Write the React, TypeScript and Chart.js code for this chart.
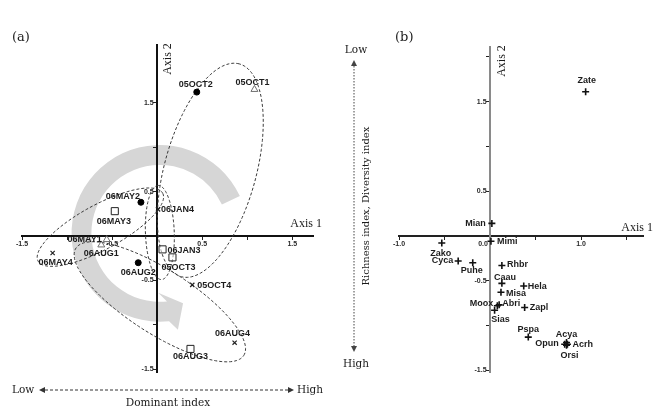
import { useEffect, useRef } from "react";
import { Chart, registerables } from "chart.js";

Chart.register(...registerables);

// ---------- Panel (a): sampling dates in the ordination plane ----------
const siteNames = [
  "05OCT1", "05OCT2", "05OCT3", "05OCT4",
  "06JAN3", "06JAN4",
  "06MAY1", "06MAY2", "06MAY3", "06MAY4",
  "06AUG1", "06AUG2", "06AUG3", "06AUG4",
];
const siteAxis1 = [1.08, 0.44, 0.17, 0.39, 0.06, 0.01, -0.56, -0.18, -0.47, -1.16, -0.62, -0.21, 0.37, 0.86];
const siteAxis2 = [1.65, 1.62, -0.24, -0.55, -0.15, 0.3, -0.04, 0.38, 0.28, -0.19, -0.1, -0.3, -1.27, -1.2];

// Ellipses around each sampling period: centre, semi-axes and tilt of the long axis (degrees)
const periodNames = ["05OCT", "06JAN", "06MAY", "06AUG"];
const periodCentre1 = [0.59, 0.03, -0.63, 0.03];
const periodCentre2 = [0.74, 0.04, 0.1, -0.74];
const periodLong = [1.24, 0.53, 0.79, 1.11];
const periodShort = [0.51, 0.16, 0.25, 0.36];
const periodTilt = [75, 92, 29, -33];

// Seasonal trajectory band (centre and radii in axis units, start/end angles in degrees)
const trajectoryCentre = [0.03, 0.03];
const trajectoryRadii = [0.76, 0.98];
const trajectoryAngles = [-25, 84];

const siteTicks = [-1.5, -1, -0.5, 0, 0.5, 1, 1.5];
const siteTickText = ["-1.5", "", "-0.5", "", "0.5", "", "1.5"];

// ---------- Panel (b): species scores ----------
const speciesNames = [
  "Zate", "Mian", "Mimi", "Zako", "Cyca", "Puhe", "Rhbr", "Caau", "Hela", "Misa",
  "Moox", "Abri", "Sias", "Zapl", "Pspa", "Acya", "Opun", "Acrh", "Orsi",
];
const speciesAxis1 = [1.05, 0.02, 0.01, -0.53, -0.35, -0.19, 0.13, 0.13, 0.37, 0.12, 0.08, 0.1, 0.05, 0.38, 0.42, 0.84, 0.82, 0.85, 0.84];
const speciesAxis2 = [1.61, 0.14, -0.06, -0.08, -0.28, -0.3, -0.33, -0.53, -0.56, -0.63, -0.78, -0.77, -0.83, -0.8, -1.13, -1.19, -1.21, -1.21, -1.22];

const speciesTicks1 = [-1, -0.5, 0, 0.5, 1, 1.5];
const speciesTickText1 = ["-1.0", "", "0.0\u2002\u2002\u2002\u2002", "", "1.0", ""];
const speciesTicks2 = [-1.5, -1, -0.5, 0, 0.5, 1, 1.5, 2];
const speciesTickText2 = ["-1.5", "", "-0.5", "", "0.5", "", "1.5", ""];

// ---------- label placement (pixel offsets from the marker) ----------
type Place = [number, number, CanvasTextAlign];
const siteLabelPlace: Record<string, Place> = {
  "05OCT1": [-2, -7, "center"],
  "05OCT2": [-1, -8, "center"],
  "05OCT3": [6, 10, "center"],
  "05OCT4": [5, 1, "left"],
  "06JAN3": [5, 1, "left"],
  "06JAN4": [3, 0, "left"],
  "06MAY1": [-5, 0, "right"],
  "06MAY2": [-1, -6, "right"],
  "06MAY3": [-1, 10, "center"],
  "06MAY4": [3, 10, "center"],
  "06AUG1": [0, 9, "center"],
  "06AUG2": [0, 10, "center"],
  "06AUG3": [0, 8, "center"],
  "06AUG4": [-2, -9, "center"],
};
const speciesLabelPlace: Record<string, Place> = {
  Zate: [1, -11, "center"],
  Mian: [-6, 0, "right"],
  Mimi: [6, 0, "left"],
  Zako: [-1, 10, "center"],
  Cyca: [-5, 0, "right"],
  Puhe: [-1, 8, "center"],
  Rhbr: [5, -1, "left"],
  Caau: [3, -6, "center"],
  Hela: [4, 0, "left"],
  Misa: [5, 1, "left"],
  Moox: [-4, -2, "right"],
  Abri: [3, -1, "left"],
  Sias: [6, 9, "center"],
  Zapl: [5, 0, "left"],
  Pspa: [0, -8, "center"],
  Acya: [0, -8, "center"],
  Opun: [-6, -1, "right"],
  Acrh: [5, 0, "left"],
  Orsi: [3, 10, "center"],
};

const SANS = '"Liberation Sans", Arial, sans-serif';
const SERIF = '"DejaVu Serif", serif';
const TIMES = '"Liberation Serif", "Times New Roman", serif';

const replicateMarkers = [
  { pointStyle: "triangle", pointRadius: 4, borderColor: "#6f6f6f", backgroundColor: "rgba(255,255,255,0)", borderWidth: 1 },
  { pointStyle: "circle", pointRadius: 3, borderColor: "#000", backgroundColor: "#000", borderWidth: 1 },
  { pointStyle: "rect", pointRadius: 5, borderColor: "#222", backgroundColor: "rgba(255,255,255,0.5)", borderWidth: 1 },
  { pointStyle: "crossRot", pointRadius: 3, borderColor: "#222", backgroundColor: "#222", borderWidth: 1.2 },
];

function writeText(
  ctx: CanvasRenderingContext2D, s: string, x: number, y: number, font: string,
  align: CanvasTextAlign = "left", rot = 0, color = "#1a1a1a",
) {
  ctx.save();
  ctx.font = font;
  ctx.fillStyle = color;
  ctx.textAlign = align;
  ctx.textBaseline = "middle";
  ctx.translate(x, y);
  if (rot) ctx.rotate(rot);
  ctx.fillText(s, 0, 0);
  ctx.restore();
}

function arrowLine(
  ctx: CanvasRenderingContext2D, x1: number, y1: number, x2: number, y2: number,
  dash: number[], color: string, lw: number,
) {
  const headLen = 6;
  const headHalf = 3;
  const ang = Math.atan2(y2 - y1, x2 - x1);
  const ux = Math.cos(ang);
  const uy = Math.sin(ang);
  ctx.save();
  ctx.strokeStyle = color;
  ctx.fillStyle = color;
  ctx.lineWidth = lw;
  ctx.setLineDash(dash);
  ctx.beginPath();
  ctx.moveTo(x1 + ux * headLen, y1 + uy * headLen);
  ctx.lineTo(x2 - ux * headLen, y2 - uy * headLen);
  ctx.stroke();
  ctx.setLineDash([]);
  const head = (tx: number, ty: number, dx: number, dy: number) => {
    ctx.beginPath();
    ctx.moveTo(tx, ty);
    ctx.lineTo(tx - dx * headLen - dy * headHalf, ty - dy * headLen + dx * headHalf);
    ctx.lineTo(tx - dx * headLen + dy * headHalf, ty - dy * headLen - dx * headHalf);
    ctx.closePath();
    ctx.fill();
  };
  head(x2, y2, ux, uy);
  head(x1, y1, -ux, -uy);
  ctx.restore();
}

function drawPointLabels(
  chart: any, names: string[], a1: number[], a2: number[],
  place: Record<string, Place>, font: string,
) {
  const { ctx } = chart;
  const xs = chart.scales.x;
  const ys = chart.scales.y;
  ctx.save();
  ctx.font = font;
  ctx.fillStyle = "#1c1c1c";
  ctx.textBaseline = "middle";
  names.forEach((n, i) => {
    const [dx, dy, align] = place[n] || [0, -8, "center"];
    ctx.textAlign = align;
    ctx.fillText(n, xs.getPixelForValue(a1[i]) + dx, ys.getPixelForValue(a2[i]) + dy);
  });
  ctx.restore();
}

// Axis drawn through the origin of the other axis, taking no layout room of its own
function centredAxis(
  other: string, min: number, max: number, ticks: number[], text: string[],
  horizontal: boolean, lineColor: string,
) {
  return {
    type: "linear",
    min,
    max,
    position: { [other]: 0 },
    afterFit: (s: any) => {
      if (horizontal) s.height = 0;
      else s.width = 0;
      s.paddingLeft = 0;
      s.paddingRight = 0;
      s.paddingTop = 0;
      s.paddingBottom = 0;
    },
    afterBuildTicks: (s: any) => {
      s.ticks = ticks.map((v) => ({ value: v }));
    },
    ticks: {
      autoSkip: false,
      maxRotation: 0,
      padding: 1,
      color: "#2a2a2a",
      font: { family: SANS, size: 7, weight: "bold" },
      callback: (v: number) => {
        const i = ticks.findIndex((t) => Math.abs(t - v) < 1e-6);
        const s = i >= 0 ? text[i] : "";
        return horizontal || !s ? s : s + "\u2002";
      },
    },
    grid: { display: true, drawOnChartArea: false, drawTicks: true, tickLength: 3, color: "#222", lineWidth: 1 },
    border: { display: true, color: lineColor, width: 2 },
  };
}

const siteDecor = {
  id: "siteDecor",
  beforeDraw(chart: any) {
    const { ctx } = chart;
    const xs = chart.scales.x;
    const ys = chart.scales.y;
    const unit = xs.getPixelForValue(1) - xs.getPixelForValue(0);
    const cx = xs.getPixelForValue(trajectoryCentre[0]);
    const cy = ys.getPixelForValue(trajectoryCentre[1]);
    const rIn = trajectoryRadii[0] * unit;
    const rOut = trajectoryRadii[1] * unit;
    const a0 = (trajectoryAngles[0] * Math.PI) / 180;
    const a1 = (trajectoryAngles[1] * Math.PI) / 180;
    const rMid = (rIn + rOut) / 2;
    const mx = cx + rMid * Math.cos(a1);
    const my = cy + rMid * Math.sin(a1);
    // arrow head turns slightly upward out of the band
    const heading = a1 - Math.PI / 2 - (22 * Math.PI) / 180;
    const hx = Math.cos(heading);
    const hy = Math.sin(heading);
    const half = 21;
    const tipLen = 17;
    ctx.save();
    ctx.fillStyle = "#d6d6d6";
    ctx.beginPath();
    ctx.arc(cx, cy, rOut, a0, a1, true);
    ctx.lineTo(mx - hy * half, my + hx * half);
    ctx.lineTo(mx + hx * tipLen, my + hy * tipLen);
    ctx.lineTo(mx + hy * half, my - hx * half);
    ctx.lineTo(cx + rIn * Math.cos(a1), cy + rIn * Math.sin(a1));
    ctx.arc(cx, cy, rIn, a1, a0, false);
    ctx.closePath();
    ctx.fill();
    ctx.restore();
  },
  beforeDatasetsDraw(chart: any) {
    const { ctx } = chart;
    const xs = chart.scales.x;
    const ys = chart.scales.y;
    ctx.save();
    ctx.strokeStyle = "#3a3a3a";
    ctx.lineWidth = 1;
    ctx.setLineDash([3, 2]);
    periodNames.forEach((_, k) => {
      const t = (periodTilt[k] * Math.PI) / 180;
      const ux = Math.cos(t);
      const uy = Math.sin(t);
      ctx.beginPath();
      for (let s = 0; s <= 144; s++) {
        const th = (s / 144) * Math.PI * 2;
        const p = periodLong[k] * Math.cos(th);
        const q = periodShort[k] * Math.sin(th);
        const px = xs.getPixelForValue(periodCentre1[k] + p * ux - q * uy);
        const py = ys.getPixelForValue(periodCentre2[k] + p * uy + q * ux);
        if (s === 0) ctx.moveTo(px, py);
        else ctx.lineTo(px, py);
      }
      ctx.closePath();
      ctx.stroke();
    });
    ctx.restore();
  },
  afterDatasetsDraw(chart: any) {
    drawPointLabels(chart, siteNames, siteAxis1, siteAxis2, siteLabelPlace, `bold 9px ${SANS}`);
  },
  afterDraw(chart: any) {
    const { ctx } = chart;
    const ca = chart.chartArea;
    writeText(ctx, "(a)", 12, 38, `13px ${SERIF}`);
    writeText(ctx, "Axis 2", ca.left + 146, ca.top + 14, `12px ${TIMES}`, "center", -Math.PI / 2);
    writeText(ctx, "Axis 1", ca.right + 9, 224, `12px ${TIMES}`, "right");
    writeText(ctx, "Low", 12, 390, `10.5px ${SERIF}`);
    writeText(ctx, "High", 323, 390, `10.5px ${SERIF}`, "right");
    arrowLine(ctx, 39, 390, 294, 390, [3, 2], "#333", 1);
    writeText(ctx, "Dominant index", 168, 403, `10.5px ${SERIF}`, "center");
  },
};

const speciesDecor = {
  id: "speciesDecor",
  afterDatasetsDraw(chart: any) {
    drawPointLabels(chart, speciesNames, speciesAxis1, speciesAxis2, speciesLabelPlace, `bold 9px ${SANS}`);
  },
  afterDraw(chart: any) {
    const { ctx } = chart;
    const ca = chart.chartArea;
    const ox = 338;
    writeText(ctx, "(b)", 395 - ox, 38, `13px ${SERIF}`);
    writeText(ctx, "Low", 356 - ox, 50, `10.5px ${SERIF}`, "center");
    writeText(ctx, "High", 356 - ox, 364, `10.5px ${SERIF}`, "center");
    arrowLine(ctx, 354 - ox, 60, 354 - ox, 352, [1.5, 1.5], "#444", 1);
    writeText(ctx, "Richness index, Diversity index", 366 - ox, 206, `10px ${SERIF}`, "center", -Math.PI / 2);
    writeText(ctx, "Axis 2", 502 - ox, ca.top + 14, `12px ${TIMES}`, "center", -Math.PI / 2);
    writeText(ctx, "Axis 1", ca.right + 10, 228, `12px ${TIMES}`, "right");
  },
};

function siteConfig(): any {
  const datasets = replicateMarkers.map((m, r) => ({
    label: `replicate ${r + 1}`,
    data: siteNames
      .map((n, i) => ({ n, x: siteAxis1[i], y: siteAxis2[i] }))
      .filter((d) => Number(d.n.slice(-1)) === r + 1)
      .map((d) => ({ x: d.x, y: d.y })),
    pointStyle: m.pointStyle,
    pointRadius: m.pointRadius,
    pointBorderColor: m.borderColor,
    pointBackgroundColor: m.backgroundColor,
    pointBorderWidth: m.borderWidth,
    showLine: false,
  }));
  return {
    type: "scatter",
    data: { datasets },
    options: {
      responsive: false,
      animation: false,
      devicePixelRatio: 1,
      layout: { padding: { left: 22, right: 25, top: 45, bottom: 39 } },
      plugins: { legend: { display: false }, tooltip: { enabled: false } },
      scales: {
        x: centredAxis("y", -1.5, 1.73, siteTicks, siteTickText, true, "#111"),
        y: centredAxis("x", -1.53, 2.15, siteTicks, siteTickText, false, "#111"),
      },
    },
    plugins: [siteDecor],
  };
}

function speciesConfig(): any {
  return {
    type: "scatter",
    data: {
      datasets: [
        {
          label: "species",
          data: speciesNames.map((_, i) => ({ x: speciesAxis1[i], y: speciesAxis2[i] })),
          pointStyle: "cross",
          pointRadius: 3.5,
          pointBorderColor: "#111",
          pointBorderWidth: 1.6,
          showLine: false,
        },
      ],
    },
    options: {
      responsive: false,
      animation: false,
      devicePixelRatio: 1,
      layout: { padding: { left: 61, right: 12, top: 47, bottom: 39 } },
      plugins: { legend: { display: false }, tooltip: { enabled: false } },
      scales: {
        x: centredAxis("y", -1.0, 1.68, speciesTicks1, speciesTickText1, true, "#222"),
        y: centredAxis("x", -1.52, 2.11, speciesTicks2, speciesTickText2, false, "#8a8a8a"),
      },
    },
    plugins: [speciesDecor],
  };
}

export default function App() {
  const leftRef = useRef<HTMLCanvasElement>(null);
  const rightRef = useRef<HTMLCanvasElement>(null);
  useEffect(() => {
    const a = new Chart(leftRef.current as HTMLCanvasElement, siteConfig());
    const b = new Chart(rightRef.current as HTMLCanvasElement, speciesConfig());
    return () => {
      a.destroy();
      b.destroy();
    };
  }, []);
  return (
    <div style={{ position: "absolute", left: 0, top: 0, width: 655, height: 411, background: "#fff", overflow: "hidden" }}>
      <canvas ref={leftRef} width={338} height={411} style={{ position: "absolute", left: 0, top: 0, width: 338, height: 411 }} />
      <canvas ref={rightRef} width={317} height={411} style={{ position: "absolute", left: 338, top: 0, width: 317, height: 411 }} />
    </div>
  );
}
